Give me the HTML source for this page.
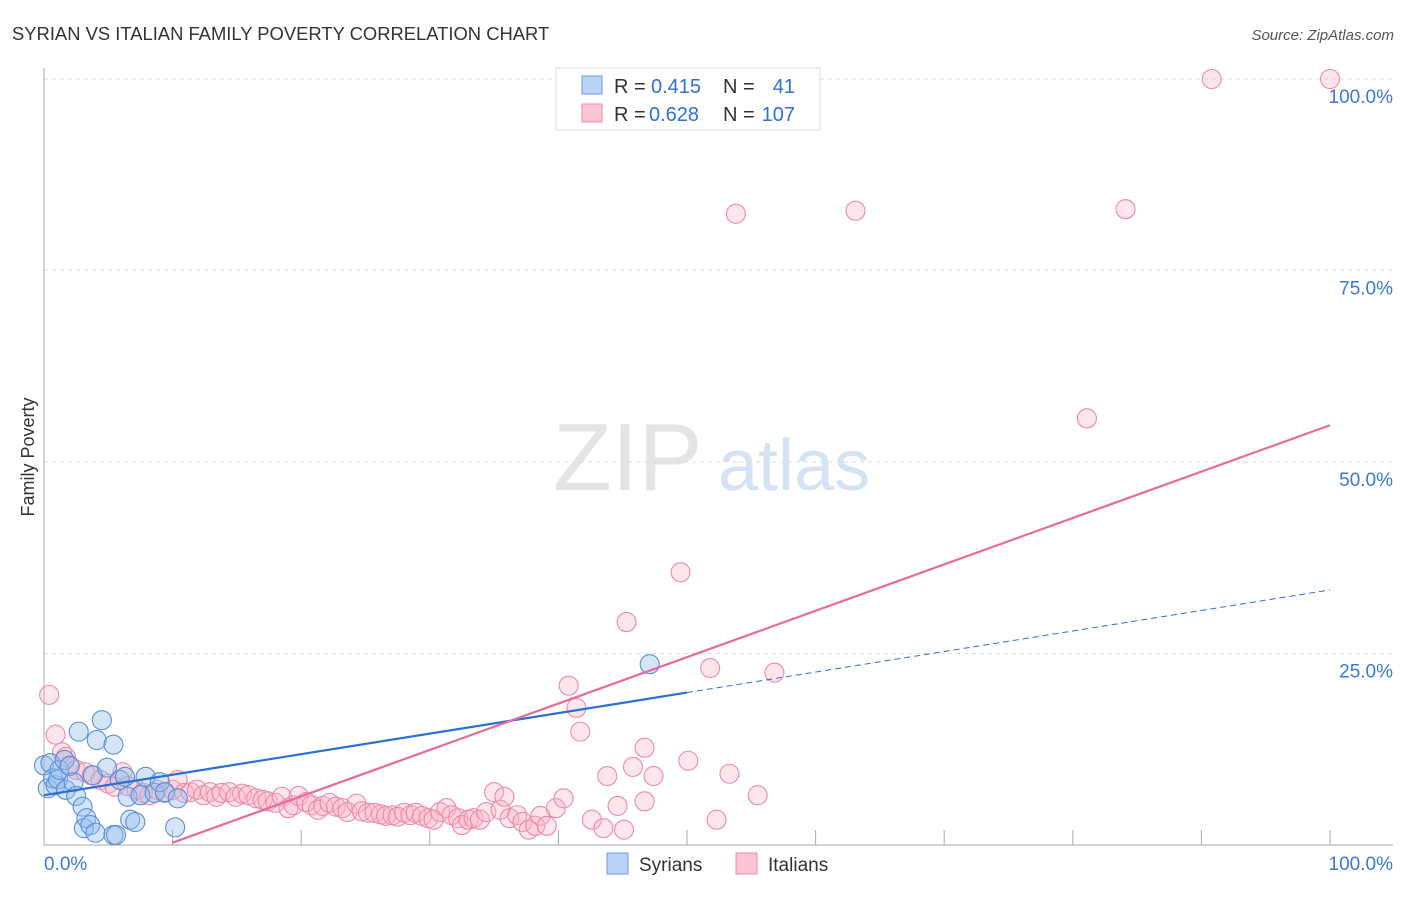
<!DOCTYPE html>
<html><head><meta charset="utf-8"><style>
body{margin:0;background:#fff;font-family:"Liberation Sans",sans-serif}
svg text{font-family:"Liberation Sans",sans-serif}
</style></head><body>
<svg id="c" width="1406" height="892">
<text x="12" y="40" font-size="18.4" fill="#333">SYRIAN VS ITALIAN FAMILY POVERTY CORRELATION CHART</text>
<text x="1394" y="40" font-size="15" fill="#555" font-style="italic" text-anchor="end">Source: ZipAtlas.com</text>
<text x="34" y="457" font-size="18" fill="#333" text-anchor="middle" transform="rotate(-90 34 457)">Family Poverty</text>
<g><text x="553" y="490" font-size="96" fill="#e4e4e4" font-family="Liberation Serif,serif">ZIP</text><text x="718" y="490" font-size="72" fill="#d4e2f3">atlas</text></g>
<g id="grid"></g><g id="marks"></g><g id="lines"></g>
<g>
<rect x="556" y="68" width="264" height="62" fill="#fff" stroke="#ddd"/>
<rect x="582" y="76" width="20" height="18" fill="#b8d3f5" stroke="#6b9ee0"/>
<rect x="582" y="104" width="20" height="18" fill="#fbc6d4" stroke="#ec8aa8"/>
<text x="614" y="93" font-size="20" fill="#333">R =</text><text x="651" y="93" font-size="20" fill="#2f6fd6">0.415</text>
<text x="723" y="93" font-size="20" fill="#333">N =</text><text x="795" y="93" font-size="20" fill="#2f6fd6" text-anchor="end">41</text>
<text x="614" y="121" font-size="20" fill="#333">R =</text><text x="649" y="121" font-size="20" fill="#2f6fd6">0.628</text>
<text x="723" y="121" font-size="20" fill="#333">N =</text><text x="795" y="121" font-size="20" fill="#2f6fd6" text-anchor="end">107</text>
</g>
<g>
<rect x="607" y="853" width="21" height="21" fill="#b8d3f5" stroke="#6b9ee0"/>
<text x="639" y="871" font-size="19" fill="#333">Syrians</text>
<rect x="736" y="853" width="21" height="21" fill="#fbc6d4" stroke="#ec8aa8"/>
<text x="768" y="871" font-size="19" fill="#333">Italians</text>
</g>
</svg>
<script>
const yTicks=[25,50,75,100];
const yTickLabels=["25.0%","50.0%","75.0%","100.0%"];
const xTickLabels=["0.0%","100.0%"];
const syrX=[0,0.3,0.5,0.7,0.9,1.1,1.2,1.6,1.7,2.0,2.3,2.5,2.7,3.0,3.1,3.3,3.6,3.8,4.0,4.1,4.5,4.9,5.4,5.4,5.6,5.9,6.3,6.5,6.7,7.1,7.5,7.9,8.6,9.0,9.4,10.2,10.4,47.1];
const syrY=[10.4,7.4,10.7,8.7,7.8,8.6,9.8,11.1,7.2,10.3,8.2,6.4,14.8,5.0,2.2,3.5,2.6,9.1,1.6,13.7,16.3,10.1,1.3,13.1,1.3,8.5,8.9,6.3,3.3,3.0,6.5,8.9,6.8,8.2,6.9,2.3,6.1,23.6];
const itaX=[0.4,0.9,1.4,1.7,2.0,2.5,3.2,3.7,4.4,5.0,5.5,6.1,6.5,7.2,7.7,8.2,8.8,9.4,10.0,10.4,10.9,11.4,11.9,12.4,12.9,13.4,13.8,14.4,14.9,15.4,15.9,16.5,17.0,17.4,18.0,18.5,19.0,19.4,19.8,20.4,20.8,21.3,21.7,22.2,22.7,23.2,23.6,24.3,24.7,25.2,25.7,26.2,26.6,27.1,27.5,28.0,28.5,28.9,29.4,29.9,30.3,30.8,31.3,31.7,32.2,32.5,33.0,33.4,33.9,34.4,35.0,35.5,35.8,36.2,36.8,37.2,37.7,38.2,38.6,39.1,39.8,40.4,40.8,41.4,41.7,42.6,43.5,43.8,44.6,45.1,45.3,45.8,46.7,46.7,47.4,49.5,50.1,51.8,52.3,53.3,53.8,55.5,56.8,63.1,81.1,84.1,90.8,100];
const itaY=[19.6,14.4,12.1,11.5,10.4,9.8,9.5,9.1,8.5,8.0,7.6,9.5,7.7,7.2,6.8,6.5,7.2,6.8,7.2,8.5,6.8,6.9,7.2,6.5,6.9,6.3,6.8,6.9,6.3,6.7,6.5,6.1,5.9,5.7,5.5,6.3,4.8,5.2,6.4,5.6,5.2,4.6,5.1,5.5,5.0,4.8,4.3,5.4,4.4,4.2,4.2,4.0,3.8,3.9,3.7,4.2,3.9,4.2,3.8,3.5,3.3,4.3,4.8,3.9,3.5,2.6,3.3,3.5,3.3,4.3,6.9,4.6,6.3,3.5,3.9,3.0,2.0,2.5,3.8,2.5,4.8,6.1,20.8,17.9,14.8,3.3,2.2,9.0,5.1,2.0,29.1,10.2,5.7,12.7,9.0,35.6,11.0,23.1,3.3,9.3,82.4,6.5,22.5,82.8,55.7,83.0,100,100];
const syrTrend=[6.5,33.3];
const syrSolidEnd=50;
const itaTrend=[10,0.3,100,54.8];
const NS='http://www.w3.org/2000/svg';
const X=v=>44+v*12.86, Y=v=>845-v*7.66;
function mk(tag,attrs,parent){const e=document.createElementNS(NS,tag);for(const k in attrs)e.setAttribute(k,attrs[k]);parent.appendChild(e);return e;}
const grid=document.getElementById('grid'),marks=document.getElementById('marks'),lines=document.getElementById('lines');
yTicks.forEach((t,i)=>{
 const l=mk('line',{x1:44,x2:1393,y1:Y(t),y2:Y(t),stroke:'#ddd','stroke-dasharray':'4,4'},grid);
 
 
 const tx=mk('text',{x:1393,y:Y(t)+24,'font-size':19,fill:'#3b78d8','text-anchor':'end'},grid);
 tx.textContent=yTickLabels[i];
 
 
});
const ax=mk('path',{d:'M44 68V845H1393',fill:'none',stroke:'#aaa'},grid);


for(let i=1;i<=10;i++){const t=mk('line',{x1:X(i*10),x2:X(i*10),y1:830,y2:845,stroke:'#aaa'},grid);
 
 }
[[44,'start',0],[1393,'end',1]].forEach(([x,a,i])=>{const t=mk('text',{x:x,y:870,'font-size':19,fill:'#3b78d8','text-anchor':a},grid);t.textContent=xTickLabels[i];
 
 });
itaX.forEach((x,i)=>{const c=mk('circle',{cx:X(x),cy:Y(itaY[i]),r:9.5,fill:'rgba(248,180,200,0.35)',stroke:'#ec8aa8','stroke-width':1.1},marks);
 
 });
syrX.forEach((x,i)=>{const c=mk('circle',{cx:X(x),cy:Y(syrY[i]),r:9.5,fill:'rgba(150,190,238,0.4)',stroke:'#5b8fd6','stroke-width':1.1},marks);
 
 });
const sy=x=>syrTrend[0]+(syrTrend[1]-syrTrend[0])*x/100;
const b1=mk('line',{x1:X(0),y1:Y(sy(0)),x2:X(syrSolidEnd),y2:Y(sy(syrSolidEnd)),stroke:'#2a6fd6','stroke-width':2.2},lines);


const b2=mk('line',{x1:X(syrSolidEnd),y1:Y(sy(syrSolidEnd)),x2:X(100),y2:Y(sy(100)),stroke:'#2a6fd6','stroke-width':1,'stroke-dasharray':'6,4'},lines);


const p1=mk('line',{x1:X(itaTrend[0]),y1:Y(itaTrend[1]),x2:X(itaTrend[2]),y2:Y(itaTrend[3]),stroke:'#e8699a','stroke-width':2.2},lines);


</script>
</body></html>
